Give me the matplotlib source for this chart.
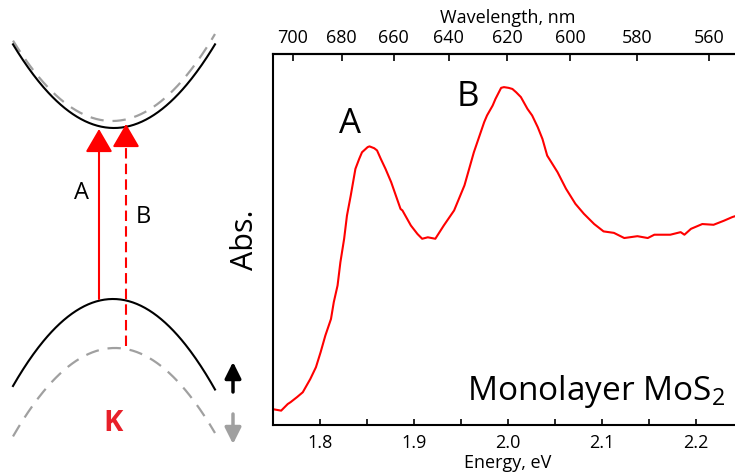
import numpy as np
import matplotlib
matplotlib.use("Agg")
import matplotlib.pyplot as plt

plt.rcParams['font.family'] = ['Open Sans', 'DejaVu Sans']
plt.rcParams['mathtext.fontset'] = 'custom'
plt.rcParams['mathtext.rm'] = 'Open Sans'
plt.rcParams['mathtext.default'] = 'regular'

# absorption spectrum of monolayer MoS2 (arbitrary units)
energy = [1.748, 1.759, 1.766, 1.769, 1.776, 1.782, 1.790, 1.796, 1.801, 1.806,
          1.812, 1.815, 1.819, 1.822, 1.826, 1.829, 1.833, 1.838, 1.842, 1.845,
          1.851, 1.853, 1.858, 1.861, 1.865, 1.870, 1.876, 1.886, 1.888, 1.897,
          1.904, 1.909, 1.915, 1.923, 1.932, 1.943, 1.954, 1.964, 1.975, 1.978,
          1.984, 1.987, 1.993, 1.996, 2.001, 2.005, 2.009, 2.014, 2.021, 2.026,
          2.032, 2.037, 2.042, 2.053, 2.062, 2.072, 2.081, 2.092, 2.102, 2.113,
          2.124, 2.138, 2.149, 2.156, 2.173, 2.184, 2.188, 2.195, 2.207, 2.219,
          2.230, 2.239, 2.244]
absorbance = [0.041, 0.036, 0.054, 0.059, 0.073, 0.086, 0.122, 0.154, 0.195, 0.240,
              0.285, 0.331, 0.376, 0.439, 0.503, 0.566, 0.620, 0.693, 0.720, 0.738,
              0.752, 0.754, 0.749, 0.743, 0.720, 0.693, 0.657, 0.584, 0.580, 0.539,
              0.516, 0.503, 0.507, 0.503, 0.539, 0.580, 0.648, 0.738, 0.820, 0.838,
              0.865, 0.883, 0.913, 0.915, 0.913, 0.910, 0.901, 0.888, 0.856, 0.838,
              0.806, 0.774, 0.729, 0.684, 0.639, 0.598, 0.571, 0.543, 0.523, 0.519,
              0.505, 0.510, 0.505, 0.514, 0.514, 0.521, 0.514, 0.530, 0.543, 0.541,
              0.552, 0.562, 0.566]
energy_ticks = [1.8, 1.9, 2.0, 2.1, 2.2]
energy_labels = ['1.8', '1.9', '2.0', '2.1', '2.2']
wavelength_ticks = [700, 680, 660, 640, 620, 600, 580, 560]
peak_labels = ['A', 'B']
peak_pos = [(1.832, 0.817), (1.958, 0.890)]

HC = 1239.84  # eV*nm


def ev_to_nm(e):
    e = np.asarray(e, dtype=float)
    with np.errstate(divide='ignore', invalid='ignore'):
        return HC / e


def nm_to_ev(w):
    w = np.asarray(w, dtype=float)
    with np.errstate(divide='ignore', invalid='ignore'):
        return HC / w


# band schematic parameters (pixel-like units of the left panel)
cb_solid = dict(x0=114, y0=129, a=0.0082)
cb_dash = dict(x0=112, y0=122, a=0.0082)
vb_solid = dict(x0=113, y0=300, a=0.0087)
vb_dash = dict(x0=115, y0=349, a=0.0085)
k_span = (13, 215)

fig = plt.figure(figsize=(7.35, 4.77), dpi=100)

# ---- left: band diagram at K ----
axs = fig.add_axes([0, 0, 250 / 735, 1])
axs.set_xlim(0, 250)
axs.set_ylim(477, 0)
axs.axis('off')

k = np.linspace(k_span[0], k_span[1], 200)


def band(p, sign):
    return p['y0'] + sign * p['a'] * (k - p['x0']) ** 2


gray = '#a0a0a0'
axs.plot(k, band(cb_dash, -1), color=gray, lw=1.6, ls=(0, (6, 4)))
axs.plot(k, band(cb_solid, -1), color='black', lw=1.5)
axs.plot(k, band(vb_dash, 1), color=gray, lw=1.6, ls=(0, (6, 4)))
axs.plot(k, band(vb_solid, 1), color='black', lw=1.5)

head = dict(arrowstyle='-|>,head_length=0.6,head_width=0.35', mutation_scale=24,
            color='red', lw=1.5, shrinkA=0, shrinkB=0)
# A transition (solid)
axs.annotate('', xy=(99, 130), xytext=(99, 300), arrowprops=head)
# B transition (dashed)
axs.plot([126, 126], [347, 146], color='red', lw=1.5, ls=(0, (5, 2.5)))
axs.annotate('', xy=(126, 125), xytext=(126, 146), arrowprops=head)

axs.text(82, 193, 'A', fontsize=17, ha='center', va='center')
axs.text(143, 217, 'B', fontsize=17, ha='center', va='center')
axs.text(113, 424, 'K', fontsize=21, fontweight='bold', color='#e8202a',
         ha='center', va='center')

spin = dict(arrowstyle='-|>,head_length=0.7,head_width=0.35', mutation_scale=14,
            lw=2.5, shrinkA=0, shrinkB=0)
axs.annotate('', xy=(233, 363), xytext=(233, 393), arrowprops=dict(spin, color='black'))
axs.annotate('', xy=(233, 445), xytext=(233, 415), arrowprops=dict(spin, color=gray))

# ---- right: absorption spectrum ----
ax = fig.add_axes([272.7 / 735, 51 / 477, 470 / 735, 371 / 477])
ax.plot(energy, absorbance, color='red', lw=1.5)
ax.set_xlim(1.75, 2.25)
ax.set_ylim(-0.003, 1.005)
ax.set_yticks([])
ax.set_xticks(energy_ticks)
ax.set_xticklabels(energy_labels)
ax.set_xticks(np.arange(1.75, 2.26, 0.05), minor=True)
ax.tick_params(axis='x', which='both', direction='in', length=4.5, width=1.2,
               labelsize=13, pad=6, top=False)
ax.spines['right'].set_visible(False)
for side in ('left', 'bottom', 'top'):
    ax.spines[side].set_linewidth(1.5)
ax.set_xlabel('Energy, eV', fontsize=13, labelpad=1)

secax = ax.secondary_xaxis('top', functions=(ev_to_nm, nm_to_ev))
secax.set_xticks(wavelength_ticks)
secax.tick_params(axis='x', direction='in', length=5, width=1.2, labelsize=13, pad=6)
secax.spines['top'].set_linewidth(1.5)
secax.set_xlabel('Wavelength, nm', fontsize=13, labelpad=4)

for lab, (x, y) in zip(peak_labels, peak_pos):
    ax.text(x, y, lab, fontsize=25, ha='center', va='center')
ax.text(2.231, 0.068, 'Monolayer MoS$_2$', fontsize=24, ha='right', va='baseline')

fig.text(245 / 735, 1 - 240 / 477, 'Abs.', fontsize=22, rotation=90,
         ha='center', va='center')

fig.savefig('out.png', dpi=100)
